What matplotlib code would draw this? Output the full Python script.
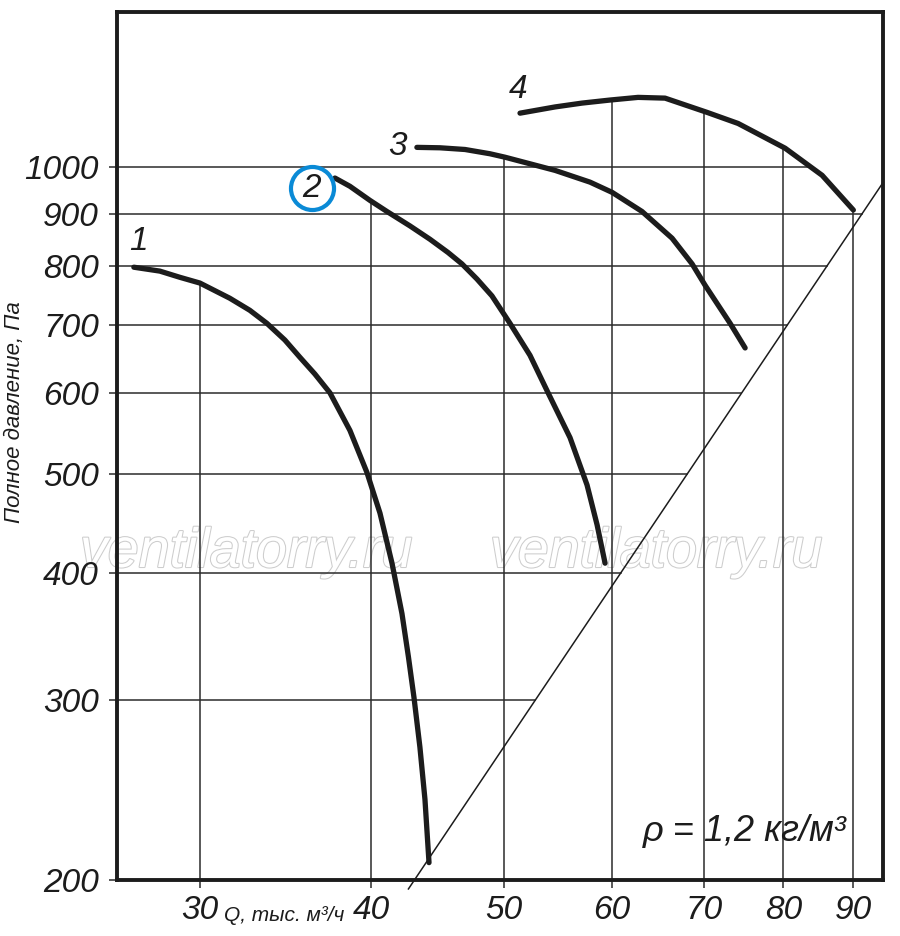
import numpy as np
import matplotlib
matplotlib.use("Agg")
import matplotlib.pyplot as plt
from matplotlib import patheffects as pe
from matplotlib.ticker import NullLocator

# fan curves: Q [thousand m3/h] vs total pressure [Pa]
q1 = [26.85, 28.05, 29.01, 30.0, 31.55, 32.63, 33.58, 34.61, 35.50, 36.40, 37.33, 38.61,
      39.73, 40.61, 41.44, 42.14, 42.60, 43.00, 43.43, 43.80, 44.10]
p1 = [798, 791, 780, 770, 744, 724, 703, 677, 651, 627, 601, 552,
      502, 458, 409, 365, 331, 302, 270, 240, 208]
q2 = [37.65, 38.61, 39.93, 41.09, 42.71, 44.17, 45.53, 46.61, 47.80, 49.02, 50.53,
      52.26, 53.87, 55.90, 57.52, 58.50, 59.29]
p2 = [976, 958, 928, 905, 876, 850, 825, 804, 777, 748, 703,
      654, 601, 543, 488, 446, 409]
q3 = [43.21, 44.92, 46.85, 48.86, 50.11, 54.51, 57.81, 59.99, 63.09, 66.36, 68.63,
      70.15, 73.16, 75.03]
p3 = [1046, 1045, 1041, 1031, 1023, 993, 967, 945, 905, 852, 804,
      766, 703, 665]
q4 = [51.39, 54.51, 57.04, 59.79, 62.67, 65.58, 70.38, 74.15, 80.25, 85.40, 90.0]
p4 = [1130, 1146, 1156, 1164, 1171, 1169, 1132, 1104, 1044, 982, 908]

# network line (P ~ Q^2), both ends
q_sys = [42.6, 94.6]
p_sys = [196, 966]

x_ticks = [30, 40, 50, 60, 70, 80, 90]
y_ticks = [200, 300, 400, 500, 600, 700, 800, 900, 1000]
names = ["1", "2", "3", "4"]

INK = "#1c1c1c"
GRID = "#2b2b2b"
BLUE = "#0a8ad6"
FONT = ["Liberation Sans", "DejaVu Sans"]

curves = [(q1, p1), (q2, p2), (q3, p3), (q4, p4)]


def loginterp(x, xs, ys):
    return float(np.exp(np.interp(np.log(x), np.log(xs), np.log(ys))))


def top_at(q):
    """highest fan curve above a given Q (vertical grid lines stop there)"""
    vals = [loginterp(q, qc, pc) for qc, pc in curves if qc[0] <= q <= qc[-1]]
    return max(vals)


def right_at(p):
    """horizontal grid lines stop at the network line or at curve 4's falling side"""
    q = loginterp(p, p_sys, q_sys)
    i = int(np.argmax(p4))
    qd, pd = np.array(q4[i:]), np.array(p4[i:])
    if pd[-1] <= p <= pd[0]:
        q = min(q, loginterp(p, pd[::-1], qd[::-1]))
    return q


plt.rcParams["font.family"] = FONT
fig = plt.figure(figsize=(9, 9.36), dpi=100)
ax = fig.add_axes([117 / 900, 56 / 936, 766 / 900, 868 / 936])
ax.set_xscale("log"); ax.set_yscale("log")
ax.set_xlim(26.1, 94.6); ax.set_ylim(200, 1420)

for q in x_ticks:
    ax.plot([q, q], [200, top_at(q)], color=GRID, lw=1.1, zorder=1)
for p in y_ticks[1:]:
    ax.plot([26.1, right_at(p)], [p, p], color=GRID, lw=1.1, zorder=1)

ax.plot(q_sys, p_sys, color=INK, lw=1.1, zorder=2, clip_on=False)

for qc, pc in curves:
    ax.plot(qc, pc, color=INK, lw=3.8, solid_capstyle="round", solid_joinstyle="round", zorder=3)

lab_kw = dict(fontsize=24, style="italic", color=INK, ha="center", va="center", zorder=4)
ax.text(27.07, 845, names[0], **lab_kw)
ax.text(36.22, 954, names[1], **lab_kw)
ax.text(41.85, 1049, names[2], **lab_kw)
ax.text(51.2, 1191, names[3], **lab_kw)
ax.plot([36.22], [954], "o", ms=31, mfc="none", mec=BLUE, mew=3.0, zorder=4)

ax.text(63.2, 223, "ρ = 1,2 кг/м³", fontsize=26, style="italic", color=INK,
        ha="left", va="center", zorder=4)

# hollow watermarks
for xf in (80 / 900, 490 / 900):
    ax.text(xf, 1 - 567 / 936, "ventilatorry.ru", transform=fig.transFigure,
            fontsize=40, style="italic", color="white", ha="left", va="baseline",
            clip_on=False, zorder=0.5,
            path_effects=[pe.Stroke(linewidth=1.5, foreground="#cdcdcd"), pe.Normal()])

ax.set_xticks(x_ticks, [str(v) for v in x_ticks])
ax.set_yticks(y_ticks, [str(v) for v in y_ticks])
ax.xaxis.set_minor_locator(NullLocator()); ax.yaxis.set_minor_locator(NullLocator())
for t in ax.get_xticklabels() + ax.get_yticklabels():
    t.set_fontsize(24); t.set_style("italic"); t.set_color(INK)
ax.tick_params(axis="both", direction="out", length=6, width=1.1, color=GRID)
ax.tick_params(axis="y", pad=7)
ax.tick_params(axis="x", pad=5)

ax.text(31.24, -0.047, "Q, тыс. м³/ч", transform=ax.get_xaxis_transform(),
        fontsize=15, style="italic", color=INK, ha="left", va="baseline")
fig.text(15 / 900, 1 - 412 / 936, "Полное давление, Па", rotation=90,
         fontsize=16, style="italic", color=INK, ha="center", va="center")

for s in ax.spines.values():
    s.set_linewidth(2.8); s.set_color(INK)

fig.savefig("out.png", dpi=100)
